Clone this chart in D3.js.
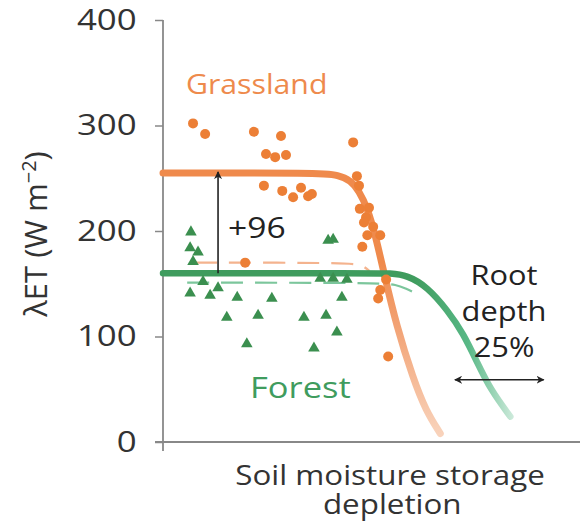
<!DOCTYPE html>
<html>
<head>
<meta charset="utf-8">
<script src="https://cdn.jsdelivr.net/npm/d3@7"></script>
<style>
  body { margin: 0; background: #fff; }
  text { font-family: "Open Sans", "DejaVu Sans", sans-serif; }
</style>
</head>
<body>
<div id="chart"></div>
<script>
// grassland observations (x = depletion, arbitrary units 0-100; y = W m-2)
var grassX = [7.2, 10.1, 21.8, 28.3, 45.6, 24.7, 26.9, 29.5, 24.2, 28.6, 31.2, 33.1, 34.8, 35.7,
              46.5, 47.0, 47.2, 49.4, 48.7, 48.2, 50.4, 52.1, 49.0, 47.8, 19.7, 52.1, 51.6, 53.5, 54.0];
var grassY = [302, 292, 294, 290, 284, 273, 270, 272, 243, 238, 232, 241, 233, 235,
              252, 243, 221, 222, 213, 208, 204, 196, 196, 185, 170, 144, 136, 154, 81];

// forest observations
var forestX = [6.7, 6.5, 8.4, 7.2, 9.6, 6.5, 11.3, 13.2, 17.8, 26.1, 42.9, 37.7, 40.8, 44.1,
               39.6, 40.8, 15.3, 22.8, 33.8, 39.1, 41.7, 20.1, 36.2];
var forestY = [199, 184, 180, 171, 152, 141, 139, 146, 137, 136, 137, 155, 155, 154,
               191, 192, 118, 120, 118, 120, 104, 93, 89];

// fitted curves
var grassFitX = [0, 38, 42, 45, 47, 49, 51, 53, 56, 60, 63, 66.5];
var grassFitY = [255, 255, 253, 248, 238, 222, 195, 160, 110, 60, 30, 8];
var forestFitX = [0, 50, 54.5, 58.6, 63.4, 68.2, 72, 75.4, 78.5, 83.3];
var forestFitY = [160, 160, 160, 158, 147, 125, 103, 75, 50, 24];

// dashed (alternative) curves
var grassDashX = [7.7, 46, 48, 49.5];
var grassDashY = [170, 170, 167, 162];
var forestDashX = [5.8, 52, 56, 58, 61];
var forestDashY = [151, 151, 149, 146, 140];

var yTicks = [0, 100, 200, 300, 400];

var W = 580, H = 526;
var svg = d3.select("#chart").append("svg")
    .attr("width", W)
    .attr("height", H);

var x = d3.scaleLinear().domain([0, 100]).range([163, 580]);
var y = d3.scaleLinear().domain([0, 400]).range([442, 20]);

// text in the figure is a bit wide, stretch horizontally
function label(px, py, txt, size, sx, color, anchor) {
  return svg.append("text")
    .attr("transform", "translate(" + px + "," + py + ") scale(" + sx + ",1)")
    .attr("text-anchor", anchor || "start")
    .attr("fill", color)
    .style("font-size", size + "px")
    .text(txt);
}

var defs = svg.append("defs");
defs.append("marker")
    .attr("id", "head")
    .attr("viewBox", "0 0 10 10")
    .attr("refX", 9).attr("refY", 5)
    .attr("markerWidth", 8).attr("markerHeight", 8)
    .attr("markerUnits", "userSpaceOnUse")
    .attr("orient", "auto-start-reverse")
  .append("path")
    .attr("d", "M0,0L10,5L0,10L3,5z")
    .attr("fill", "#222");

var gGrad = defs.append("linearGradient")
    .attr("id", "grassGrad")
    .attr("gradientUnits", "userSpaceOnUse")
    .attr("x1", 0).attr("x2", 0)
    .attr("y1", y(170)).attr("y2", y(0));
gGrad.append("stop").attr("offset", 0).attr("stop-color", "#ef8a4c");
gGrad.append("stop").attr("offset", 0.35).attr("stop-color", "#f2a274");
gGrad.append("stop").attr("offset", 1).attr("stop-color", "#f9d6c0");

var fGrad = defs.append("linearGradient")
    .attr("id", "forestGrad")
    .attr("gradientUnits", "userSpaceOnUse")
    .attr("x1", x(60)).attr("x2", x(84))
    .attr("y1", 0).attr("y2", 0);
fGrad.append("stop").attr("offset", 0).attr("stop-color", "#3f9c5e");
fGrad.append("stop").attr("offset", 0.55).attr("stop-color", "#58b886");
fGrad.append("stop").attr("offset", 1).attr("stop-color", "#cdeadb");

// axes
svg.append("line")
    .attr("x1", 155).attr("x2", 580)
    .attr("y1", y(0)).attr("y2", y(0))
    .attr("stroke", "#888").attr("stroke-width", 1.8);

var yAxis = svg.append("g")
    .attr("transform", "translate(" + x(0) + ",0)")
    .call(d3.axisLeft(y).tickValues(yTicks).tickSize(8).tickPadding(14));
yAxis.select(".domain").remove();
yAxis.append("line")
    .attr("x1", 0).attr("x2", 0)
    .attr("y1", y(400)).attr("y2", y(0) + 9)
    .attr("stroke", "#888").attr("stroke-width", 1.8);
yAxis.selectAll(".tick line").attr("stroke", "#888").attr("stroke-width", 1.5);
yAxis.selectAll(".tick text")
    .attr("fill", "#333")
    .attr("transform", "scale(1.2,1)")
    .style("font-size", "29px")
    .style("font-family", "'Open Sans', sans-serif");

svg.append("text")
    .attr("transform", "translate(47,234) rotate(-90)")
    .attr("text-anchor", "middle")
    .attr("fill", "#333")
    .style("font-size", "31px")
    .html("λET (W m<tspan dy='-11' font-size='20px'>−2</tspan><tspan dy='11'>)</tspan>");

// x axis title, two lines in one text
var xTitle = svg.append("text")
    .attr("transform", "translate(390,485) scale(1.12,1)")
    .attr("text-anchor", "middle")
    .attr("fill", "#333")
    .style("font-size", "28px");
xTitle.append("tspan").attr("x", 0).attr("y", 0).text("Soil moisture storage");
xTitle.append("tspan").attr("x", 2).attr("y", 29).text("depletion");

function pts(xs, ys) { return xs.map(function(d, i) { return [x(d), y(ys[i])]; }); }
var lineB = d3.line().curve(d3.curveBasis);

// dashed curves
svg.append("path")
    .attr("d", lineB(pts(grassDashX, grassDashY)))
    .attr("fill", "none").attr("stroke", "#f4b38e")
    .attr("stroke-width", 2.2).attr("stroke-dasharray", "22,12");
svg.append("path")
    .attr("d", lineB(pts(forestDashX, forestDashY)))
    .attr("fill", "none").attr("stroke", "#7cc69c")
    .attr("stroke-width", 2.2).attr("stroke-dasharray", "22,12");

// fitted curves
svg.append("path")
    .attr("d", lineB(pts(grassFitX, grassFitY)))
    .attr("fill", "none").attr("stroke", "url(#grassGrad)")
    .attr("stroke-width", 7).attr("stroke-linecap", "round");
svg.append("path")
    .attr("d", lineB(pts(forestFitX, forestFitY)))
    .attr("fill", "none").attr("stroke", "url(#forestGrad)")
    .attr("stroke-width", 6.5).attr("stroke-linecap", "round");

// points
svg.append("g").selectAll("circle")
    .data(grassX)
    .enter().append("circle")
      .attr("cx", function(d) { return x(d); })
      .attr("cy", function(d, i) { return y(grassY[i]); })
      .attr("r", 5)
      .attr("fill", "#ec7f36");

svg.append("g").selectAll("path")
    .data(forestX)
    .enter().append("path")
      .attr("transform", function(d, i) { return "translate(" + x(d) + "," + y(forestY[i]) + ")"; })
      .attr("d", d3.symbol().type(d3.symbolTriangle).size(58))
      .attr("fill", "#3b8f4f");

// +96 arrow
svg.append("line")
    .attr("x1", x(13.2)).attr("x2", x(13.2))
    .attr("y1", y(160)).attr("y2", y(256))
    .attr("stroke", "#222").attr("stroke-width", 1.6)
    .attr("marker-end", "url(#head)");
label(228, 238, "+96", 30, 1.12, "#222");

// root depth arrow
svg.append("line")
    .attr("x1", x(70)).attr("x2", x(91.3))
    .attr("y1", y(59)).attr("y2", y(59))
    .attr("stroke", "#222").attr("stroke-width", 1.6)
    .attr("marker-start", "url(#head)")
    .attr("marker-end", "url(#head)");
var rootLines = ["Root", "depth", "25%"];
rootLines.forEach(function(d, i) {
  label(504, 285 + i * 36, d, 28, 1.1, "#222", "middle");
});

// series labels
label(186, 94, "Grassland", 28, 1.08, "#ee8a4c");
label(250, 398, "Forest", 30, 1.15, "#3f9c5e");
</script>
</body>
</html>
